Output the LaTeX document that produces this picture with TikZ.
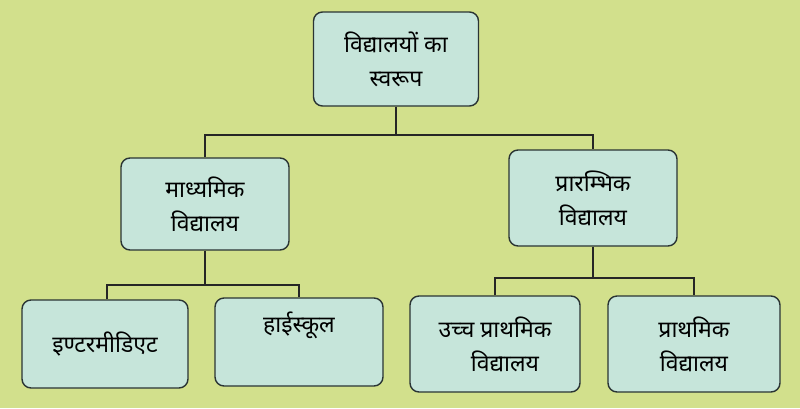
\documentclass[tikz,border=0pt]{standalone}
\usepackage{fontspec}
\newfontfamily\hindi[Script=Devanagari]{Noto Sans}
\definecolor{bg}{HTML}{D2E08C}
\definecolor{boxc}{HTML}{C6E5DA}
\definecolor{edge}{HTML}{2A3434}
\begin{document}
\begin{tikzpicture}[x=1pt,y=-1pt,
  bx/.style={draw=edge,line width=1.4pt,fill=boxc,rounded corners=9pt,
    minimum width=#1,align=center,font=\hindi\fontsize{23}{34}\selectfont,inner sep=0pt},
  ln/.style={draw=black!85,line width=2.8pt}]
\fill[bg] (0,0) rectangle (800,408);
\useasboundingbox (0,0) rectangle (800,408);
\node[bx=165pt,minimum height=94pt] (top) at (396,59) {विद्यालयों का\\स्वरूप};
\node[bx=168pt,minimum height=92pt] (lm) at (205,204) {माध्यमिक\\विद्यालय};
\node[bx=168pt,minimum height=96pt] (rm) at (593,198) {प्रारम्भिक\\विद्यालय};
\node[bx=166pt,minimum height=88pt] (b1) at (105,344) {इण्टरमीडिएट};
\node[bx=168pt,minimum height=88pt,text depth=40pt] (b2) at (299,342) {हाईस्कूल};
\node[bx=170pt,minimum height=96pt] (b3) at (495,344) {उच्च प्राथमिक\\\hspace*{20pt}विद्यालय};
\node[bx=172pt,minimum height=96pt] (b4) at (694,344) {प्राथमिक\\विद्यालय};
\coordinate (j1) at (396,135);
\coordinate (j2) at (205,285);
\coordinate (j3) at (593,278);
\draw[ln] (top.south) -- (j1);
\draw[ln] (lm.north) |- (j1) -| (rm.north);
\draw[ln] (lm.south) -- (j2);
\draw[ln] (b1.north -| 107,0) |- (j2) -| (b2.north);
\draw[ln] (rm.south) -- (j3);
\draw[ln] (b3.north) |- (j3) -| (b4.north);
\end{tikzpicture}
\end{document}
